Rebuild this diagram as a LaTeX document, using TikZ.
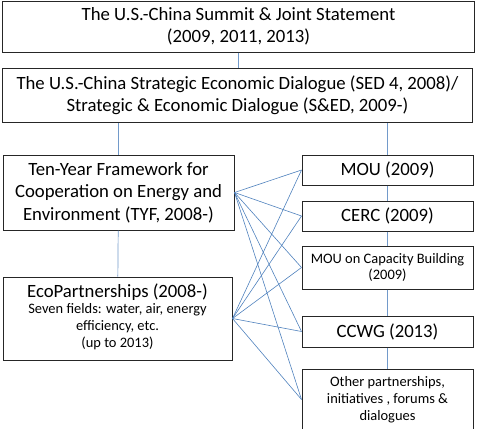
\documentclass[tikz,border=0pt]{standalone}
\usepackage{fontspec}
\setmainfont{Carlito}
\usepackage{xcolor}
\usetikzlibrary{positioning}
\definecolor{LinkBlue}{HTML}{4F81BD}
\definecolor{BoxDark}{HTML}{262626}
\newcommand{\subtext}{\fontsize{14.5}{17}\selectfont}
\tikzset{
  orgbox/.style={draw=BoxDark,line width=1pt,align=center,inner sep=1pt,fill=white,font=\fontsize{18.8}{22.5}\selectfont},
  smallbox/.style={orgbox,font=\subtext},
  treeline/.style={draw=LinkBlue!80,line width=0.7pt},
  crosslink/.style={draw=LinkBlue,line width=0.6pt}
}

\begin{document}
\begin{tikzpicture}[x=1bp,y=-1bp,node distance=15bp and 68bp]
\useasboundingbox (0,0) rectangle (477,428);
\node[orgbox,minimum width=471bp,minimum height=51bp] (summit) at (238.5,26.5) {The U.S.-China Summit \& Joint Statement\\(2009, 2011, 2013)};
\node[orgbox,minimum width=469bp,minimum height=54bp] (sed) at (237.5,95) {The U.S.-China Strategic Economic Dialogue (SED 4, 2008)/\\Strategic \& Economic Dialogue (S\&ED, 2009-)};
\node[orgbox,minimum width=231bp,minimum height=75bp] (tyf) at (118.5,192.5) {Ten-Year Framework for\\Cooperation on Energy and\\Environment (TYF, 2008-)};
\node[orgbox,minimum width=229bp,minimum height=83bp] (eco) at (117.5,318.5) {EcoPartnerships (2008-)\\{\subtext\begin{tabular}{@{}c@{}}Seven fields: water, air, energy\\efficiency, etc.\\(up to 2013)\end{tabular}}};
\node[orgbox,minimum width=171bp,minimum height=30bp] (mou) at (387.5,170) {MOU (2009)};
\node[orgbox,minimum width=171bp,minimum height=30bp,below=of mou] (cerc) {CERC (2009)};
\node[smallbox,minimum width=171bp,minimum height=43bp,below=14bp of cerc] (capacity) {MOU on Capacity Building\\(2009)};
\node[orgbox,minimum width=171bp,minimum height=31bp,below=26bp of capacity] (ccwg) {CCWG (2013)};
\node[smallbox,minimum width=171bp,minimum height=61bp,below=21bp of ccwg] (other) {Other partnerships,\\initiatives , forums \&\\dialogues};
% tree
\draw[treeline] (summit.south) -- (sed.north -| summit.south);
\draw[treeline] (tyf.north) -- (tyf.north |- sed.south);
\draw[treeline] (mou.north) -- (mou.north |- sed.south);
\draw[treeline] (tyf) -- (eco);
\draw[treeline] (mou) -- (cerc);
\draw[treeline] (cerc) -- (capacity);
\draw[treeline] (capacity) -- (ccwg);
\draw[treeline] (ccwg) -- (other);
% cross links
\foreach \src in {tyf,eco}
  \foreach \dst in {mou,cerc,capacity,ccwg,other}
    \draw[crosslink] (\src.east) -- (\dst.west);
\end{tikzpicture}
\end{document}
